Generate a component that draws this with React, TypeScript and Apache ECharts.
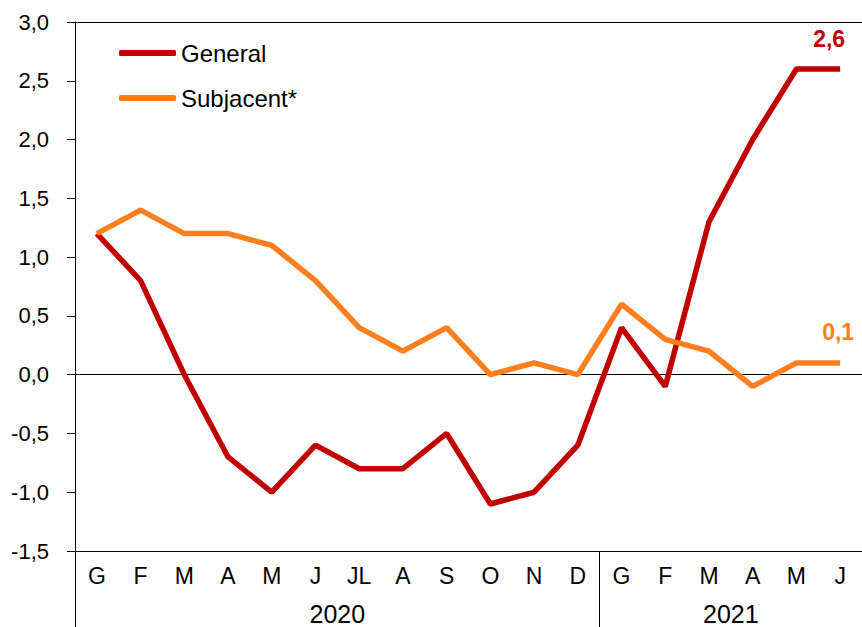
import React, { useEffect, useRef } from "react";
import * as echarts from "echarts";

const months = ["G", "F", "M", "A", "M", "J", "JL", "A", "S", "O", "N", "D", "G", "F", "M", "A", "M", "J"];
const years = ["2020", "2021"];
const yearCenters = [6, 15];
const yearBounds = [0, 12, 18];
const general = [1.2, 0.8, 0.0, -0.7, -1.0, -0.6, -0.8, -0.8, -0.5, -1.1, -1.0, -0.6, 0.4, -0.1, 1.3, 2.0, 2.6, 2.6];
const subjacent = [1.2, 1.4, 1.2, 1.2, 1.1, 0.8, 0.4, 0.2, 0.4, 0.0, 0.1, 0.0, 0.6, 0.3, 0.2, -0.1, 0.1, 0.1];

const RED = "#C00000";
const ORANGE = "#FF7F1E";
const FONT = "Liberation Sans, Arial, sans-serif";
const fmt = (v: number) => v.toFixed(1).replace(".", ",");

function withEndLabel(values: number[], color: string, offsetX: number) {
  return values.map((v, i) =>
    i === values.length - 1
      ? {
          value: v,
          label: {
            show: true,
            position: "top",
            distance: 19,
            offset: [offsetX, 0],
            formatter: () => fmt(v),
            color,
            fontWeight: "bold",
            fontSize: 23,
            fontFamily: FONT,
          },
        }
      : v
  );
}

export default function App() {
  const ref = useRef<HTMLDivElement>(null);
  useEffect(() => {
    if (!ref.current) return;
    const chart = echarts.init(ref.current, null, { renderer: "svg" });
    chart.setOption({
      animation: false,
      textStyle: { fontFamily: FONT },
      grid: { left: 75, right: 0, top: 22, bottom: 76, containLabel: false },
      legend: {
        orient: "vertical",
        left: 114,
        top: 34,
        itemWidth: 57,
        itemHeight: 6,
        itemGap: 17,
        icon: "roundRect",
        textStyle: { fontSize: 24, color: "#000", lineHeight: 28, fontFamily: FONT },
        data: ["General", "Subjacent*"],
      },
      xAxis: [
        {
          type: "category",
          data: months,
          boundaryGap: true,
          position: "bottom",
          axisLine: { show: true, onZero: false, lineStyle: { color: "#000", width: 1 } },
          axisTick: { show: false },
          axisLabel: { fontSize: 23, color: "#000", margin: 13, interval: 0, fontFamily: FONT },
          splitLine: { show: false },
        },
        {
          type: "value",
          min: 0,
          max: 18,
          interval: 1,
          position: "bottom",
          axisLine: { show: false, onZero: false },
          axisTick: {
            show: true,
            customValues: yearBounds,
            length: 80,
            lineStyle: { color: "#000", width: 1 },
          },
          axisLabel: {
            show: true,
            customValues: yearCenters,
            formatter: (v: number) => years[yearCenters.indexOf(v)] ?? "",
            fontSize: 25,
            color: "#000",
            margin: 50,
            fontFamily: FONT,
          },
          splitLine: { show: false },
        },
        {
          type: "category",
          data: months,
          position: "top",
          axisLine: { show: true, onZero: false, lineStyle: { color: "#000", width: 1 } },
          axisTick: { show: false },
          axisLabel: { show: false },
          splitLine: { show: false },
        },
      ],
      yAxis: {
        type: "value",
        min: -1.5,
        max: 3,
        interval: 0.5,
        axisLine: { show: true, onZero: false, lineStyle: { color: "#000", width: 1 } },
        axisTick: { show: true, length: 8, lineStyle: { color: "#000" } },
        axisLabel: { fontSize: 22, color: "#000", margin: 26, formatter: fmt, fontFamily: FONT },
        splitLine: { show: false },
      },
      series: [
        {
          name: "General",
          type: "line",
          xAxisIndex: 0,
          data: withEndLabel(general, RED, -11),
          showSymbol: true,
          symbol: "circle",
          symbolSize: 0,
          lineStyle: { color: RED, width: 5.5 },
          itemStyle: { color: RED },
          z: 3,
          markLine: {
            silent: true,
            symbol: "none",
            label: { show: false },
            lineStyle: { color: "#000", width: 1, type: "solid" },
            data: [{ yAxis: 0 }],
            z: 1,
          },
        },
        {
          name: "Subjacent*",
          type: "line",
          xAxisIndex: 0,
          data: withEndLabel(subjacent, ORANGE, -2),
          showSymbol: true,
          symbol: "circle",
          symbolSize: 0,
          lineStyle: { color: ORANGE, width: 5.5 },
          itemStyle: { color: ORANGE },
          z: 4,
        },
      ],
    });
    return () => chart.dispose();
  }, []);
  return (
    <div
      ref={ref}
      style={{ position: "absolute", left: 0, top: 0, width: 862, height: 627, background: "#fff" }}
    />
  );
}
